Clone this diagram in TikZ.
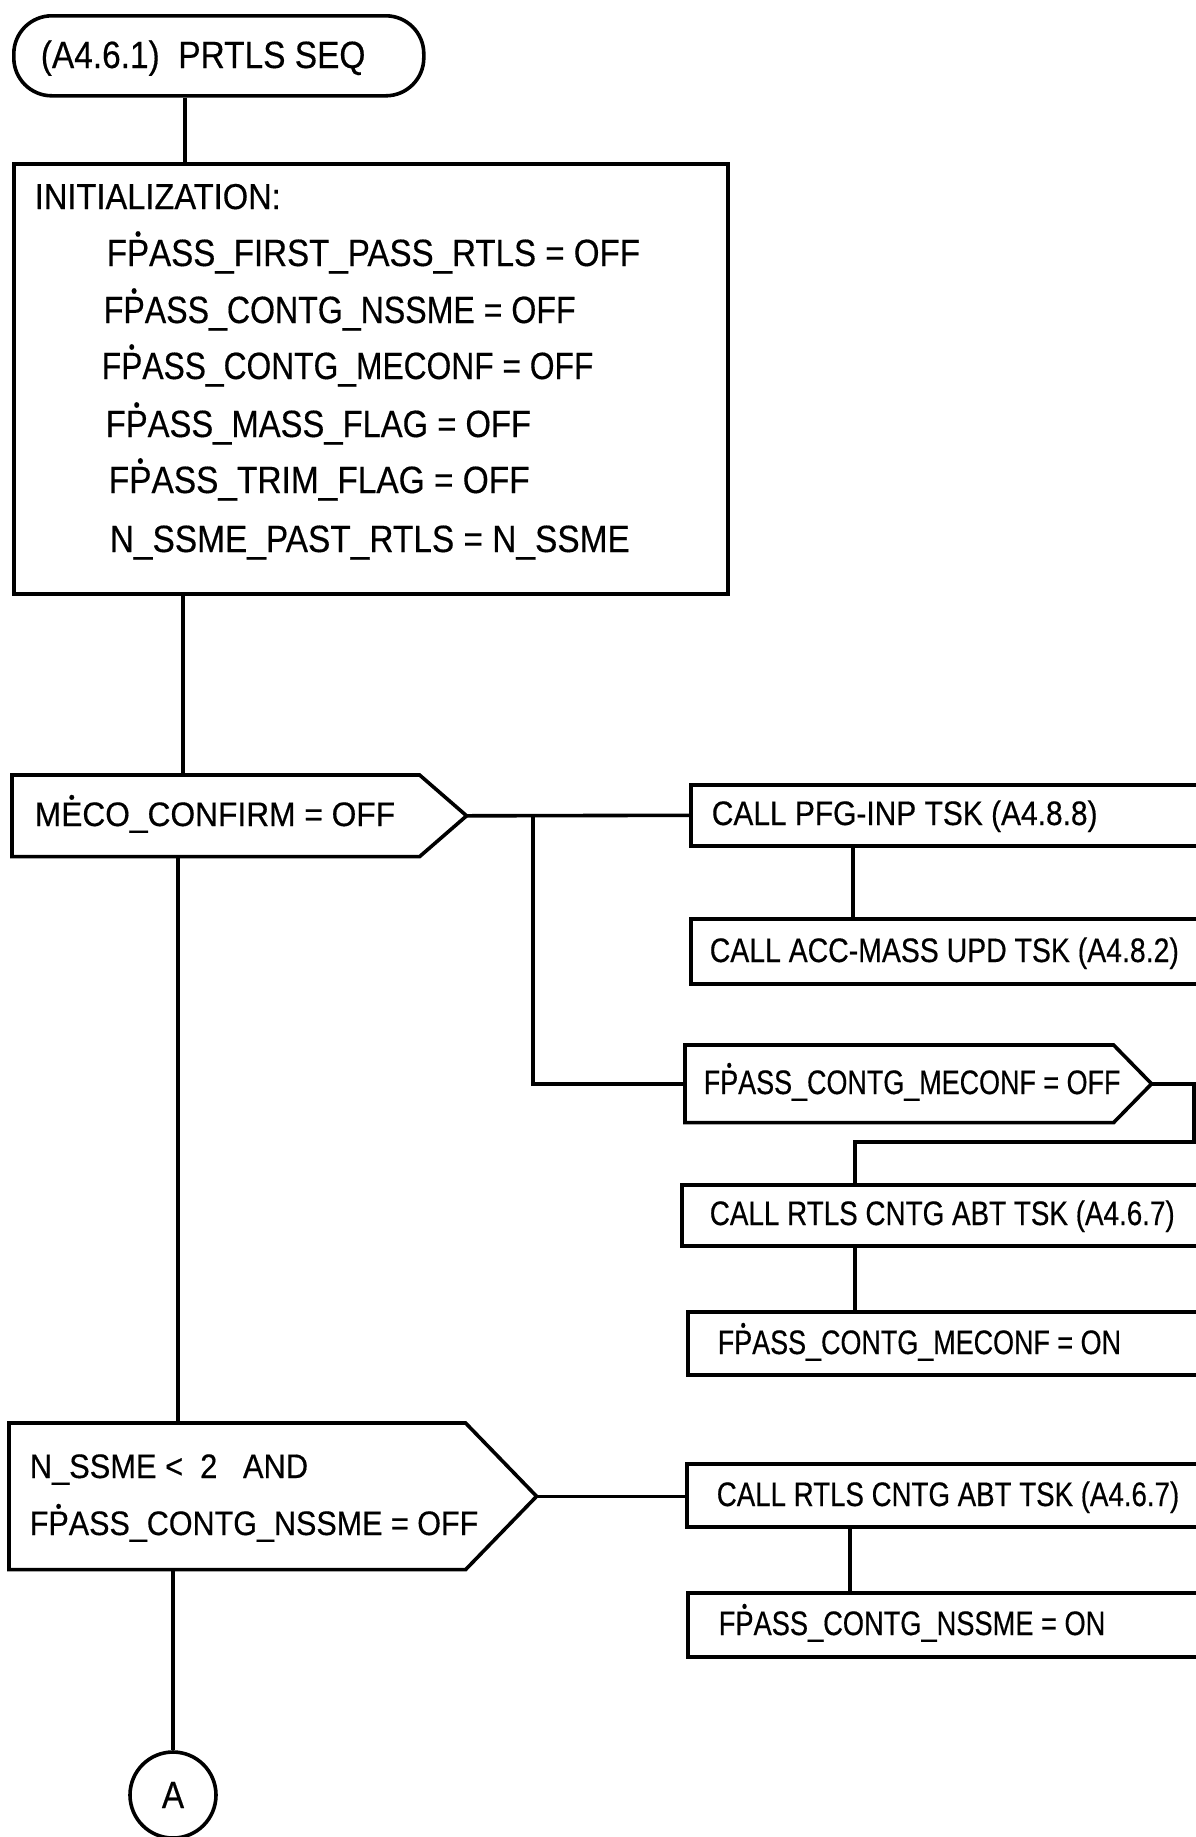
\documentclass[tikz,border=0pt]{standalone}
\usepackage{fontspec}
\setmainfont{Liberation Sans}[FakeStretch=0.88,FakeBold=0.4]
\usepackage{graphicx}
\usetikzlibrary{calc}
\newcommand\dotac[1]{\ooalign{#1\cr\hidewidth\smash{\raisebox{0.66em}{\scalebox{0.55}{\textbullet}}}\hidewidth\cr}}
\newcommand\sx[2]{\scalebox{#1}[1]{#2}}
\begin{document}
\begin{tikzpicture}[x=1pt,y=-1pt,line width=3.6pt,
  cbox/.style={draw,rectangle,anchor=north west,inner sep=0pt},
  hexbody/.style={rectangle,anchor=north west,inner sep=0pt},
  txt/.style={anchor=base west,inner sep=0pt,font=\fontsize{34}{40}\selectfont},
  inittxt/.style={anchor=base west,inner sep=0pt,font=\fontsize{38}{44}\selectfont},
  titletxt/.style={anchor=base west,inner sep=0pt,font=\fontsize{38}{44}\selectfont}]
\useasboundingbox (0,0) rectangle (1196,1837);
\clip (0,0) rectangle (1196,1837);
% helper columns
\coordinate (xa) at (185,0);
\coordinate (xb) at (183,0);
\coordinate (xc) at (178,0);
\coordinate (xd) at (853,0);
\coordinate (xe) at (855,0);
\coordinate (xf) at (850,0);
\coordinate (xloop) at (1194,0);
\coordinate (yloop) at (0,1142);
% start terminal
\node[draw,rectangle,rounded corners=38pt,minimum width=410pt,minimum height=80pt,anchor=north west,inner sep=0pt] (start) at (12,14) {};
\node[titletxt] (starttxt) at (39,68) {(A4.6.1)\ \ PRTLS SEQ};
% initialization box
\node[cbox,minimum width=714pt,minimum height=430pt] (init) at (12,162) {};
\node[anchor=base west,inner sep=0pt,font=\fontsize{36}{42}\selectfont] (i0) at (33,209) {\sx{1.03}{INITIALIZATION:}};
\node[inittxt] (i1) at (105,266) {\sx{0.99}{F\dotac{P}ASS\_FIRST\_PASS\_RTLS = OFF}};
\node[inittxt] (i2) at (102,323) {\sx{0.96}{F\dotac{P}ASS\_CONTG\_NSSME = OFF}};
\node[inittxt] (i3) at (100,379) {\sx{0.95}{F\dotac{P}ASS\_CONTG\_MECONF = OFF}};
\node[inittxt] (i4) at (104,437) {\sx{0.98}{F\dotac{P}ASS\_MASS\_FLAG = OFF}};
\node[inittxt] (i5) at (107,493) {F\dotac{P}ASS\_TRIM\_FLAG = OFF};
\node[inittxt] (i6) at (108,552) {N\_SSME\_PAST\_RTLS = N\_SSME};
% MECO decision
\node[hexbody,minimum width=404pt,minimum height=78pt] (meco) at (12,775) {};
\coordinate (mecotip) at ($(meco.east)+(47,0)$);
\draw (meco.north west) -- (meco.north east) -- (mecotip) -- (meco.south east) -- (meco.south west) -- cycle;
\node[txt] (mecotxt) at (33,826) {\sx{1.06}{M\dotac{E}CO\_CONFIRM = OFF}};
% right column boxes
\node[cbox,minimum width=561pt,minimum height=61pt] (pfg) at (689,783) {};
\node[txt] (pfgtxt) at (710,825) {CALL PFG-INP TSK (A4.8.8)};
\node[cbox,minimum width=561pt,minimum height=65pt] (acc) at (689,917) {};
\node[txt] (acctxt) at (708,962) {\sx{0.95}{CALL ACC-MASS UPD TSK (A4.8.2)}};
\node[hexbody,minimum width=425pt,minimum height=74pt] (fpoff) at (685,1045) {};
\coordinate (fpofftip) at ($(fpoff.east)+(38,0)$);
\draw (fpoff.north west) -- (fpoff.north east) -- (fpofftip) -- (fpoff.south east) -- (fpoff.south west) -- cycle;
\node[txt] (fpofftxt) at (702,1094) {\sx{0.9}{F\dotac{P}ASS\_CONTG\_MECONF = OFF}};
\node[cbox,minimum width=570pt,minimum height=61pt] (rtls1) at (680,1183) {};
\node[txt] (rtls1txt) at (708,1225) {\sx{0.93}{CALL RTLS CNTG ABT TSK (A4.6.7)}};
\node[cbox,minimum width=564pt,minimum height=63pt] (mcon) at (686,1310) {};
\node[txt] (mcontxt) at (716,1354) {\sx{0.9}{F\dotac{P}ASS\_CONTG\_MECONF = ON}};
% NSSME decision
\node[hexbody,minimum width=453pt,minimum height=143pt] (nssme) at (9,1423) {};
\coordinate (nssmetip) at ($(nssme.east)+(71,0)$);
\draw (nssme.north west) -- (nssme.north east) -- (nssmetip) -- (nssme.south east) -- (nssme.south west) -- cycle;
\node[txt] (nssmetxt1) at (28,1478) {\sx{1.03}{N\_SSME < \ 2 \ \ AND}};
\node[txt] (nssmetxt2) at (28,1535) {\sx{1.02}{F\dotac{P}ASS\_CONTG\_NSSME = OFF}};
\node[cbox,minimum width=565pt,minimum height=63pt] (rtls2) at (685,1462) {};
\node[txt] (rtls2txt) at (715,1506) {\sx{0.925}{CALL RTLS CNTG ABT TSK (A4.6.7)}};
\node[cbox,minimum width=564pt,minimum height=64pt] (nson) at (686,1591) {};
\node[txt] (nsontxt) at (717,1635) {\sx{0.91}{F\dotac{P}ASS\_CONTG\_NSSME = ON}};
% connector A
\node[draw,circle,minimum size=86pt,inner sep=0pt,font=\fontsize{38}{40}\selectfont] (conA) at (173,1795) {A};
% connectors
\draw (start.south -| xa) -- (init.north -| xa);
\draw (init.south -| xb) -- (meco.north -| xb);
\coordinate (j1) at (533,814);
\draw (mecotip) -- (pfg.west);
\draw (j1) |- (fpoff.west);
\draw (pfg.south -| xd) -- (acc.north -| xd);
\draw (fpofftip) -- (fpofftip -| xloop) -- (xloop |- yloop) -- (xe |- yloop) -- (rtls1.north -| xe);
\draw (rtls1.south -| xe) -- (mcon.north -| xe);
\draw (meco.south -| xc) -- (nssme.north -| xc);
\draw (nssmetip) -- (nssmetip -| rtls2.west);
\draw (rtls2.south -| xf) -- (nson.north -| xf);
\draw (nssme.south -| conA.north) -- (conA.north);
\end{tikzpicture}
\end{document}
